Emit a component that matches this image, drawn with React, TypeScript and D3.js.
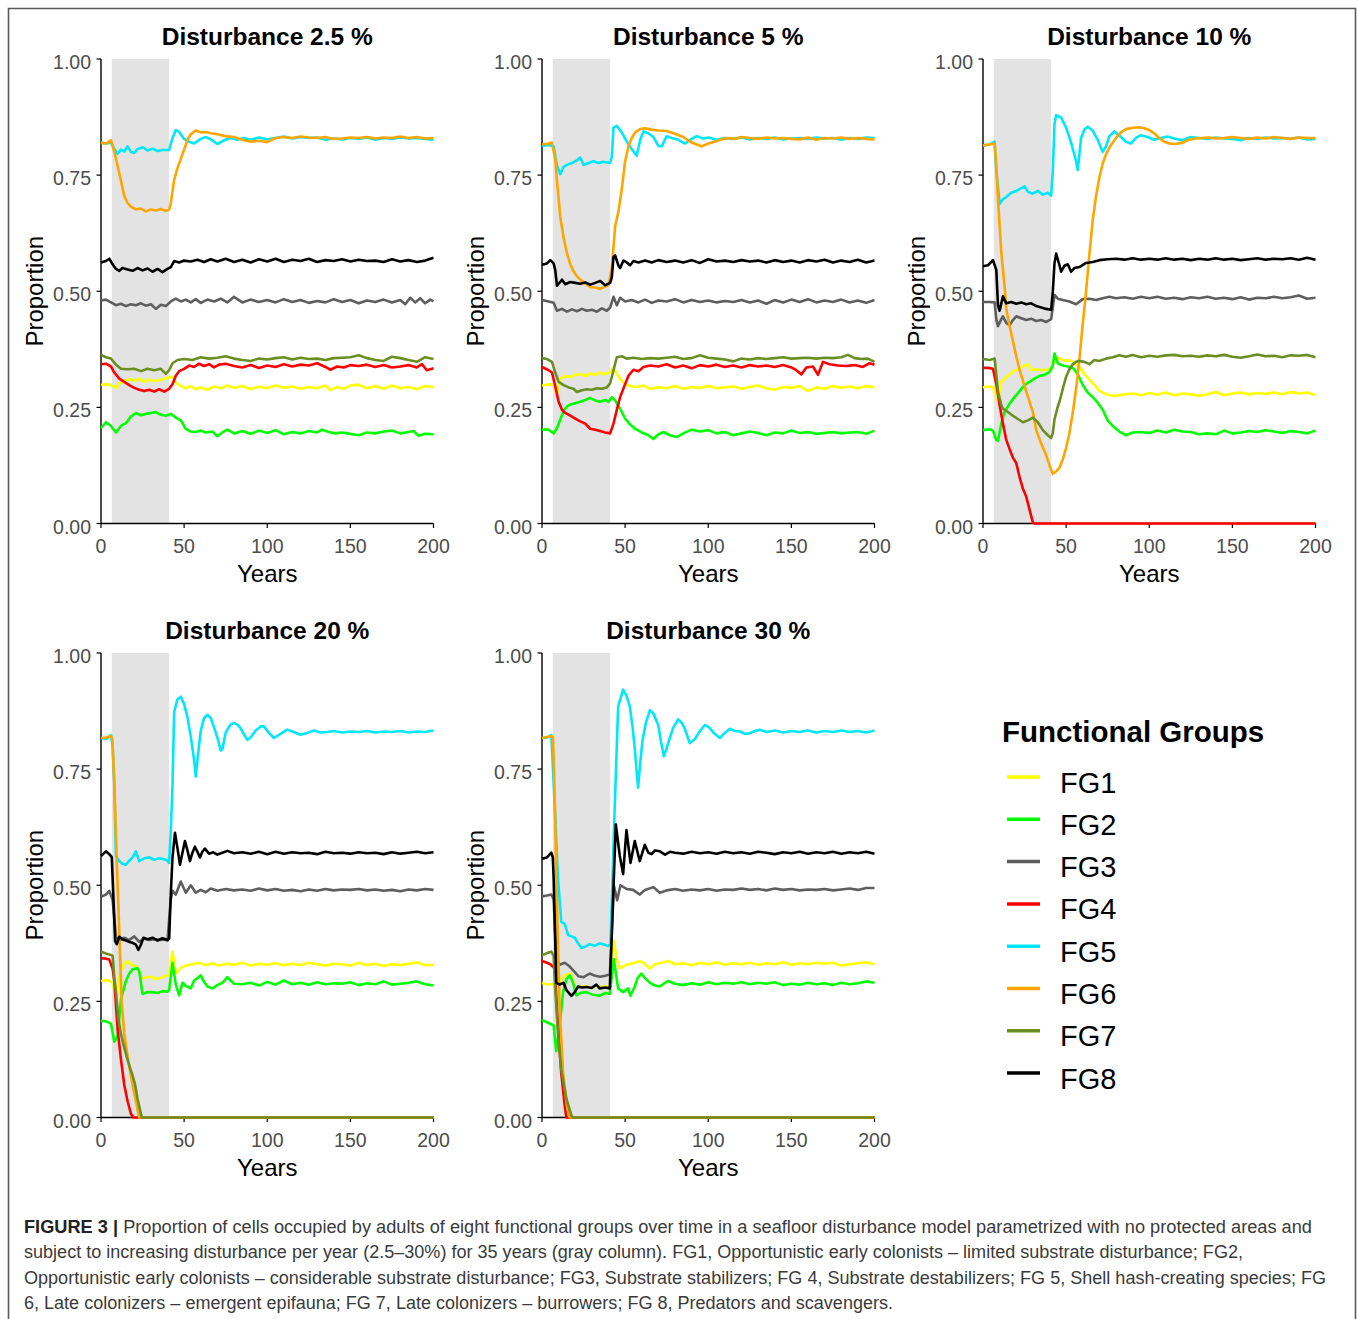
import * as d3 from "d3";
import {useEffect} from "react";

// functional groups and their colours
const groups = ["FG1", "FG2", "FG3", "FG4", "FG5", "FG6", "FG7", "FG8"];
const groupColors = ["#FFFF00", "#00FF00", "#5E5E5E", "#FF0000", "#00E8F8", "#FFA500", "#6B8E23", "#000000"];

const panelTitles = ["Disturbance 2.5 %", "Disturbance 5 %", "Disturbance 10 %", "Disturbance 20 %", "Disturbance 30 %"];
const xTicks = [0, 50, 100, 150, 200];
const yTicks = [0, 0.25, 0.5, 0.75, 1];
const disturbanceYears = [6.5, 41];

// ---- Disturbance 2.5 % : [year, proportion] ----
const d25FG1 = [[0,.298],[4,.300],[7,.296],[9,.292],[11,.302],[14,.306],[17,.311],[20,.307],[23,.312],[26,.305],[29,.310],[32,.306],[35,.309],[38,.311],[41,.315],[43,.316],[45,.303],[48,.296],[51,.291],[54,.296],[57,.289],[60,.293],[64,.288],[68,.295],[72,.291],[76,.297],[80,.292],[85,.296],[90,.289],[95,.295],[100,.291],[105,.297],[110,.292],[115,.295],[120,.290],[125,.294],[130,.291],[135,.297],[138,.287],[142,.294],[146,.290],[150,.297],[155,.299],[160,.291],[165,.296],[170,.290],[175,.297],[180,.291],[185,.294],[190,.289],[195,.296],[200,.293]];
const d25FG2 = [[0,.205],[3,.218],[6,.210],[9,.196],[12,.210],[15,.216],[18,.230],[21,.238],[24,.233],[27,.236],[30,.238],[33,.240],[36,.234],[39,.232],[42,.236],[45,.228],[48,.222],[51,.204],[54,.198],[57,.197],[60,.200],[63,.196],[67,.198],[70,.188],[73,.196],[76,.202],[80,.194],[85,.199],[90,.193],[95,.200],[100,.195],[105,.201],[110,.192],[115,.197],[120,.194],[125,.199],[130,.196],[133,.202],[137,.197],[141,.194],[145,.196],[150,.193],[155,.190],[160,.196],[165,.194],[170,.198],[175,.200],[180,.194],[185,.197],[188,.199],[191,.189],[195,.193],[200,.192]];
const d25FG3 = [[0,.480],[3,.482],[6,.476],[9,.470],[12,.473],[15,.468],[18,.472],[21,.470],[24,.474],[27,.469],[30,.472],[33,.462],[36,.471],[39,.468],[42,.478],[45,.484],[48,.478],[51,.482],[54,.476],[57,.483],[60,.475],[64,.482],[68,.478],[72,.484],[76,.476],[80,.488],[85,.476],[90,.482],[95,.477],[100,.481],[105,.476],[110,.483],[115,.477],[120,.481],[125,.475],[130,.479],[135,.476],[140,.483],[145,.477],[150,.481],[155,.474],[160,.480],[165,.477],[170,.482],[175,.476],[180,.481],[183,.472],[186,.486],[189,.476],[192,.485],[195,.474],[198,.482],[200,.478]];
const d25FG4 = [[0,.343],[3,.344],[6,.338],[8,.325],[11,.312],[14,.305],[17,.298],[20,.292],[23,.288],[26,.285],[29,.288],[32,.284],[35,.289],[38,.284],[41,.290],[43,.300],[45,.318],[47,.328],[50,.333],[53,.340],[56,.337],[59,.344],[62,.339],[65,.343],[68,.336],[71,.342],[75,.344],[80,.339],[85,.336],[90,.341],[95,.335],[100,.340],[105,.337],[110,.343],[115,.338],[120,.342],[125,.340],[130,.345],[135,.337],[138,.331],[142,.338],[146,.336],[150,.341],[155,.339],[160,.342],[165,.337],[170,.341],[175,.336],[180,.338],[185,.341],[190,.336],[193,.343],[196,.330],[200,.334]];
const d25FG5 = [[0,.820],[3,.818],[6,.820],[8,.806],[10,.796],[12,.805],[14,.801],[16,.812],[18,.800],[20,.798],[22,.806],[25,.810],[28,.803],[31,.807],[34,.802],[37,.804],[41,.804],[43,.830],[45,.847],[47,.843],[50,.828],[53,.822],[56,.818],[60,.828],[63,.832],[66,.827],[70,.817],[74,.825],[78,.830],[82,.826],[86,.830],[90,.826],[95,.831],[100,.827],[105,.830],[110,.833],[115,.829],[120,.832],[125,.830],[130,.831],[135,.826],[140,.829],[145,.827],[150,.830],[155,.828],[160,.831],[165,.826],[170,.830],[175,.828],[180,.831],[185,.829],[190,.830],[195,.828],[200,.826]];
const d25FG6 = [[0,.820],[3,.818],[6,.825],[8,.800],[10,.770],[12,.738],[14,.705],[16,.690],[18,.682],[21,.676],[24,.678],[27,.672],[30,.676],[33,.674],[36,.677],[39,.673],[41,.676],[42,.690],[44,.740],[46,.765],[48,.785],[50,.805],[52,.826],[54,.838],[57,.846],[60,.842],[63,.843],[66,.840],[70,.838],[75,.834],[80,.832],[85,.826],[90,.822],[95,.824],[100,.821],[105,.830],[110,.832],[115,.830],[120,.833],[125,.831],[130,.830],[135,.832],[140,.828],[145,.829],[150,.831],[155,.830],[160,.832],[165,.829],[170,.831],[175,.830],[180,.833],[185,.830],[190,.832],[195,.829],[200,.830]];
const d25FG7 = [[0,.363],[3,.358],[6,.355],[9,.342],[12,.333],[16,.332],[20,.333],[24,.328],[28,.333],[32,.330],[36,.333],[39,.322],[41,.330],[43,.345],[46,.352],[50,.354],[55,.352],[60,.358],[65,.355],[70,.357],[75,.360],[80,.355],[85,.352],[90,.350],[95,.355],[100,.353],[105,.356],[110,.358],[115,.353],[120,.357],[125,.354],[130,.355],[135,.352],[140,.356],[145,.357],[150,.358],[155,.362],[160,.356],[165,.352],[170,.350],[175,.359],[180,.356],[185,.352],[190,.348],[195,.358],[200,.354]];
const d25FG8 = [[0,.562],[3,.565],[5,.570],[7,.558],[9,.548],[11,.544],[13,.550],[16,.547],[19,.544],[22,.550],[25,.545],[28,.549],[31,.542],[34,.548],[37,.541],[40,.548],[42,.552],[44,.565],[47,.562],[50,.566],[54,.564],[58,.568],[62,.563],[66,.569],[70,.564],[75,.570],[80,.563],[85,.568],[90,.562],[95,.569],[100,.564],[105,.570],[110,.563],[115,.568],[120,.565],[125,.570],[130,.563],[135,.567],[140,.565],[145,.569],[150,.564],[155,.568],[160,.565],[165,.566],[170,.563],[175,.569],[180,.564],[185,.567],[190,.563],[195,.566],[200,.572]];

// ---- Disturbance 5 % ----
const d5FG1 = [[0,.297],[4,.299],[7,.300],[9,.278],[11,.312],[14,.318],[17,.315],[20,.320],[23,.322],[26,.317],[29,.323],[32,.320],[35,.325],[38,.321],[41,.326],[43,.335],[45,.322],[47,.312],[50,.300],[53,.296],[57,.294],[61,.297],[65,.290],[70,.293],[75,.291],[80,.296],[85,.290],[90,.294],[95,.292],[100,.296],[105,.291],[110,.293],[115,.295],[120,.290],[125,.294],[130,.297],[135,.291],[140,.288],[145,.294],[150,.292],[155,.296],[160,.285],[165,.293],[170,.290],[175,.296],[180,.292],[185,.295],[190,.291],[195,.296],[200,.293]];
const d5FG2 = [[0,.202],[4,.202],[7,.194],[9,.205],[11,.224],[13,.242],[15,.252],[17,.256],[20,.259],[23,.262],[26,.266],[29,.270],[32,.265],[35,.262],[38,.266],[40,.262],[42,.272],[44,.265],[47,.247],[50,.226],[53,.213],[56,.204],[60,.196],[64,.190],[67,.182],[70,.192],[73,.197],[77,.190],[81,.186],[85,.194],[90,.202],[95,.198],[100,.201],[105,.194],[110,.197],[115,.190],[120,.194],[125,.198],[130,.195],[135,.190],[140,.196],[145,.194],[150,.200],[155,.195],[160,.197],[165,.193],[170,.195],[175,.197],[180,.194],[185,.196],[190,.197],[195,.193],[200,.200]];
const d5FG3 = [[0,.481],[4,.478],[7,.475],[9,.458],[12,.462],[15,.456],[18,.461],[21,.457],[24,.462],[27,.458],[30,.460],[33,.456],[36,.463],[39,.458],[41,.465],[43,.488],[45,.470],[47,.486],[50,.478],[54,.481],[58,.476],[62,.482],[66,.475],[70,.480],[75,.478],[80,.483],[85,.476],[90,.481],[95,.477],[100,.480],[105,.476],[110,.479],[115,.477],[120,.481],[125,.476],[130,.480],[135,.473],[140,.481],[145,.476],[150,.482],[155,.477],[160,.483],[165,.476],[170,.480],[175,.477],[180,.482],[185,.476],[190,.480],[195,.475],[200,.481]];
const d5FG4 = [[0,.337],[4,.330],[6,.325],[8,.295],[10,.262],[12,.245],[14,.238],[17,.232],[20,.226],[23,.220],[26,.215],[29,.204],[32,.202],[35,.199],[38,.196],[41,.194],[43,.215],[45,.245],[47,.272],[50,.300],[52,.318],[55,.331],[58,.328],[61,.337],[65,.340],[70,.338],[75,.343],[80,.336],[85,.340],[90,.334],[95,.341],[100,.338],[105,.342],[110,.337],[115,.340],[120,.336],[125,.341],[130,.338],[135,.340],[140,.337],[145,.341],[150,.336],[153,.330],[156,.321],[159,.336],[163,.338],[166,.320],[169,.348],[173,.343],[178,.340],[183,.339],[188,.341],[193,.337],[197,.345],[200,.342]];
const d5FG5 = [[0,.813],[4,.815],[7,.812],[9,.770],[11,.752],[13,.768],[15,.772],[18,.776],[21,.782],[23,.788],[25,.772],[28,.776],[31,.780],[34,.776],[37,.779],[41,.776],[42,.790],[43,.852],[45,.856],[48,.842],[51,.822],[54,.806],[57,.792],[59,.825],[61,.844],[64,.840],[67,.832],[70,.813],[72,.812],[75,.834],[78,.830],[82,.826],[86,.818],[90,.828],[93,.834],[97,.829],[100,.831],[105,.826],[110,.830],[115,.828],[120,.831],[125,.827],[130,.830],[135,.828],[140,.831],[145,.827],[150,.829],[155,.830],[160,.828],[165,.831],[170,.829],[175,.830],[180,.826],[185,.830],[190,.828],[195,.831],[200,.830]];
const d5FG6 = [[0,.816],[4,.818],[6,.820],[8,.785],[9,.738],[11,.660],[13,.615],[15,.582],[17,.558],[19,.543],[21,.532],[23,.525],[26,.517],[29,.509],[32,.508],[35,.505],[38,.510],[40,.514],[42,.550],[44,.640],[46,.672],[48,.720],[50,.780],[52,.812],[54,.830],[56,.842],[59,.849],[62,.851],[66,.848],[70,.846],[75,.845],[80,.839],[85,.832],[89,.822],[93,.816],[96,.812],[100,.818],[104,.822],[108,.827],[112,.830],[116,.828],[120,.832],[125,.830],[130,.828],[135,.831],[140,.829],[145,.830],[150,.828],[155,.827],[160,.831],[165,.826],[170,.830],[175,.829],[180,.831],[185,.828],[190,.830],[195,.828],[200,.827]];
const d5FG7 = [[0,.356],[3,.354],[6,.348],[8,.325],[10,.305],[13,.298],[16,.293],[19,.290],[21,.283],[24,.287],[27,.289],[30,.288],[33,.291],[36,.290],[39,.293],[41,.302],[43,.330],[45,.358],[48,.360],[51,.355],[55,.357],[60,.354],[65,.356],[70,.355],[75,.357],[80,.359],[85,.354],[90,.356],[95,.362],[100,.357],[105,.355],[110,.353],[115,.349],[120,.355],[125,.353],[130,.356],[135,.354],[140,.356],[145,.358],[150,.355],[155,.356],[160,.357],[165,.355],[170,.357],[175,.356],[180,.358],[184,.363],[188,.356],[192,.354],[196,.355],[200,.348]];
const d5FG8 = [[0,.557],[3,.560],[5,.567],[7,.560],[8,.545],[9,.512],[11,.520],[12,.525],[14,.515],[17,.520],[20,.518],[23,.516],[26,.519],[29,.514],[32,.518],[35,.522],[38,.513],[41,.518],[42,.530],[43,.574],[44,.577],[46,.555],[47,.550],[49,.566],[51,.562],[53,.556],[55,.565],[58,.562],[62,.566],[66,.562],[70,.567],[75,.563],[80,.566],[85,.562],[90,.567],[95,.561],[100,.569],[105,.564],[110,.566],[115,.563],[120,.567],[125,.564],[130,.566],[135,.562],[140,.567],[145,.563],[150,.566],[155,.562],[160,.567],[165,.564],[170,.568],[175,.562],[180,.566],[185,.563],[190,.568],[195,.562],[200,.566]];

// ---- Disturbance 10 % ----
const d10FG1 = [[0,.293],[4,.295],[6,.294],[8,.275],[9,.262],[11,.305],[14,.315],[18,.327],[22,.334],[25,.340],[27,.343],[29,.330],[32,.332],[35,.330],[38,.331],[41,.333],[43,.352],[46,.356],[49,.350],[52,.352],[55,.345],[58,.338],[61,.322],[64,.310],[67,.298],[70,.286],[73,.280],[76,.276],[80,.275],[85,.278],[90,.280],[95,.276],[100,.281],[105,.277],[110,.282],[115,.276],[120,.280],[125,.278],[130,.275],[135,.278],[140,.283],[145,.276],[150,.280],[155,.282],[160,.278],[165,.281],[170,.279],[175,.282],[180,.278],[185,.283],[190,.280],[195,.282],[200,.276]];
const d10FG2 = [[0,.201],[4,.203],[6,.200],[8,.180],[9,.178],[11,.215],[13,.240],[16,.258],[19,.272],[22,.285],[25,.298],[28,.305],[31,.312],[34,.318],[37,.320],[40,.326],[42,.340],[43,.366],[45,.345],[48,.340],[51,.338],[54,.335],[57,.322],[60,.298],[63,.282],[66,.272],[69,.260],[72,.245],[75,.222],[78,.210],[82,.198],[86,.190],[90,.196],[95,.197],[100,.195],[105,.200],[110,.196],[115,.202],[120,.198],[125,.197],[130,.192],[135,.194],[140,.192],[145,.200],[150,.194],[155,.196],[160,.199],[165,.197],[170,.201],[175,.198],[180,.195],[185,.199],[190,.197],[195,.194],[200,.200]];
const d10FG3 = [[0,.477],[4,.477],[7,.476],[8,.440],[9,.425],[11,.440],[12,.446],[14,.432],[16,.427],[18,.438],[20,.446],[23,.442],[26,.438],[29,.441],[32,.436],[35,.438],[38,.434],[41,.440],[42,.465],[43,.492],[45,.484],[48,.481],[52,.478],[56,.472],[60,.483],[64,.484],[68,.481],[72,.485],[76,.488],[80,.485],[85,.487],[90,.484],[95,.488],[100,.485],[105,.488],[110,.484],[115,.486],[120,.483],[125,.487],[130,.485],[135,.488],[140,.484],[145,.486],[150,.483],[155,.487],[160,.482],[165,.486],[170,.485],[175,.488],[180,.485],[185,.487],[190,.491],[195,.484],[200,.486]];
const d10FG4 = [[0,.335],[3,.335],[6,.333],[8,.300],[10,.255],[12,.215],[14,.180],[16,.160],[18,.142],[20,.130],[22,.100],[24,.075],[26,.058],[28,.030],[30,.002],[31,0],[200,0]];
const d10FG5 = [[0,.814],[4,.816],[7,.822],[8,.760],[10,.688],[12,.698],[14,.703],[17,.712],[20,.716],[23,.722],[25,.726],[27,.714],[30,.710],[33,.716],[36,.708],[39,.712],[41,.706],[42,.760],[43,.860],[44,.879],[47,.874],[50,.852],[53,.820],[56,.780],[57,.761],[59,.830],[61,.848],[63,.854],[66,.846],[69,.826],[72,.800],[74,.812],[76,.834],[79,.844],[83,.832],[86,.822],[89,.818],[92,.830],[95,.836],[99,.832],[103,.826],[107,.830],[111,.833],[115,.829],[120,.825],[125,.832],[130,.830],[135,.828],[140,.831],[145,.829],[150,.828],[155,.825],[160,.830],[165,.828],[170,.831],[175,.829],[180,.830],[185,.828],[190,.831],[195,.827],[200,.828]];
const d10FG6 = [[0,.814],[4,.816],[7,.818],[8,.770],[9,.700],[11,.584],[13,.510],[14,.462],[16,.425],[18,.393],[20,.360],[22,.331],[25,.296],[28,.262],[30,.240],[32,.201],[35,.172],[38,.147],[40,.125],[42,.107],[44,.112],[46,.120],[48,.138],[50,.163],[52,.195],[54,.239],[56,.290],[58,.354],[60,.430],[62,.500],[64,.580],[66,.653],[68,.705],[70,.745],[72,.775],[74,.795],[77,.815],[80,.830],[83,.842],[86,.849],[90,.852],[94,.853],[97,.851],[100,.847],[103,.840],[106,.830],[109,.822],[112,.818],[116,.817],[120,.820],[124,.826],[128,.829],[132,.830],[136,.831],[140,.829],[145,.830],[150,.832],[155,.830],[160,.828],[165,.831],[170,.829],[175,.832],[180,.830],[185,.828],[190,.831],[195,.830],[200,.830]];
const d10FG7 = [[0,.354],[4,.352],[7,.355],[8,.320],[9,.285],[11,.255],[12,.247],[15,.240],[18,.232],[21,.225],[24,.218],[27,.222],[30,.228],[33,.218],[36,.201],[39,.190],[41,.184],[42,.195],[43,.224],[45,.252],[46,.262],[48,.290],[50,.316],[52,.332],[54,.343],[56,.348],[58,.350],[61,.348],[64,.343],[67,.352],[70,.350],[74,.355],[78,.358],[82,.362],[86,.359],[90,.363],[95,.358],[100,.361],[105,.359],[110,.362],[115,.363],[120,.360],[125,.361],[130,.359],[135,.362],[140,.360],[145,.363],[150,.359],[155,.357],[160,.360],[165,.364],[170,.360],[175,.361],[180,.358],[185,.362],[190,.361],[195,.363],[200,.358]];
const d10FG8 = [[0,.554],[3,.556],[6,.567],[8,.546],[9,.470],[10,.458],[12,.489],[14,.474],[17,.477],[20,.473],[23,.476],[26,.472],[29,.474],[32,.468],[35,.465],[38,.462],[41,.460],[42,.500],[43,.560],[44,.581],[46,.556],[47,.542],[49,.555],[51,.558],[53,.542],[55,.550],[58,.552],[62,.561],[66,.563],[70,.567],[75,.569],[80,.570],[85,.568],[90,.571],[95,.568],[100,.570],[105,.568],[110,.571],[115,.568],[120,.570],[125,.567],[130,.570],[135,.568],[140,.571],[145,.568],[150,.570],[155,.567],[160,.569],[165,.571],[170,.568],[175,.570],[180,.569],[185,.571],[190,.568],[195,.572],[200,.568]];

// ---- Disturbance 20 % ----
const d20FG1 = [[0,.294],[4,.296],[7,.290],[9,.254],[11,.300],[12,.317],[14,.330],[16,.337],[18,.330],[21,.325],[23,.315],[24,.298],[27,.302],[30,.303],[33,.298],[36,.301],[40,.306],[41,.310],[43,.357],[45,.310],[48,.322],[51,.327],[55,.330],[59,.333],[63,.328],[67,.332],[71,.327],[75,.331],[80,.329],[85,.333],[90,.327],[95,.331],[100,.329],[105,.332],[110,.328],[115,.331],[120,.328],[125,.333],[130,.330],[135,.327],[140,.331],[145,.330],[150,.327],[155,.333],[160,.328],[165,.331],[170,.326],[175,.330],[180,.328],[185,.331],[190,.334],[195,.328],[200,.329]];
const d20FG2 = [[0,.208],[3,.207],[6,.202],[8,.163],[10,.175],[12,.254],[15,.294],[17,.310],[19,.319],[22,.321],[23,.315],[25,.266],[28,.270],[31,.270],[34,.268],[37,.272],[40,.271],[41,.275],[43,.333],[45,.286],[47,.263],[49,.290],[51,.283],[54,.278],[56,.295],[58,.300],[60,.306],[62,.292],[64,.282],[67,.278],[70,.285],[73,.290],[76,.302],[80,.288],[85,.287],[90,.290],[95,.284],[100,.292],[105,.286],[110,.295],[115,.287],[120,.290],[125,.286],[130,.291],[135,.287],[140,.289],[145,.288],[150,.291],[155,.285],[160,.289],[165,.287],[170,.293],[175,.286],[180,.288],[185,.290],[190,.293],[195,.287],[200,.284]];
const d20FG3 = [[0,.475],[3,.480],[5,.488],[7,.468],[8,.430],[9,.389],[11,.381],[14,.387],[17,.382],[20,.390],[23,.378],[26,.385],[29,.382],[32,.384],[35,.382],[38,.383],[40,.381],[42,.470],[43,.488],[45,.480],[48,.508],[51,.484],[54,.500],[57,.484],[60,.490],[63,.485],[66,.493],[70,.488],[75,.492],[80,.489],[85,.491],[90,.488],[95,.493],[100,.489],[105,.492],[110,.488],[115,.490],[120,.487],[125,.491],[130,.488],[135,.492],[140,.489],[145,.491],[150,.490],[155,.492],[160,.489],[165,.491],[170,.488],[175,.490],[180,.487],[185,.491],[190,.489],[195,.492],[200,.490]];
const d20FG4 = [[0,.343],[3,.342],[5,.340],[7,.320],[8,.294],[10,.190],[12,.125],[14,.070],[16,.035],[18,.008],[19.5,0],[200,0]];
const d20FG5 = [[0,.817],[3,.815],[6,.823],[7,.800],[8,.714],[9,.563],[11,.552],[13,.546],[15,.544],[17,.553],[19,.560],[21,.573],[23,.552],[26,.558],[29,.560],[32,.555],[35,.558],[38,.556],[40,.553],[41,.548],[42,.620],[43,.714],[44,.873],[46,.900],[48,.906],[50,.890],[52,.862],[54,.820],[56,.770],[57,.734],[58,.770],[60,.833],[62,.860],[64,.867],[66,.860],[68,.840],[70,.818],[72,.790],[73,.792],[75,.829],[78,.846],[80,.849],[82,.846],[84,.838],[86,.825],[88,.813],[90,.818],[93,.833],[96,.842],[98,.842],[101,.828],[104,.817],[108,.826],[112,.835],[116,.830],[120,.824],[124,.828],[128,.833],[132,.829],[136,.830],[140,.832],[145,.829],[150,.831],[155,.830],[160,.832],[165,.829],[170,.831],[175,.830],[180,.832],[185,.829],[190,.831],[195,.830],[200,.833]];
const d20FG6 = [[0,.817],[3,.818],[6,.821],[6.8,.815],[8,.720],[9.4,.560],[11,.400],[12.4,.250],[14,.180],[16.5,.120],[19,.070],[21,.035],[23,0],[200,0]];
const d20FG7 = [[0,.357],[3,.353],[6,.350],[7,.348],[8,.300],[9,.270],[10.4,.214],[12,.180],[13.4,.159],[15.5,.130],[17.5,.107],[19,.090],[20.5,.071],[22,.040],[23.5,.016],[24.5,0],[200,0]];
const d20FG8 = [[0,.563],[3,.573],[5,.567],[6.5,.560],[7.5,.470],[8.5,.380],[9.5,.373],[11,.389],[13,.383],[15,.381],[17,.378],[19,.376],[21,.372],[22.5,.361],[24,.372],[25.5,.387],[28,.384],[31,.387],[34,.381],[37,.386],[40,.382],[41,.385],[42,.484],[43,.560],[44.5,.613],[46,.580],[47.5,.544],[49,.570],[50.5,.595],[52,.575],[53.5,.552],[55,.570],[56.5,.583],[58,.572],[59.5,.560],[61,.572],[62.5,.579],[65,.568],[67.5,.571],[70,.566],[73,.570],[76,.574],[80,.569],[85,.571],[90,.568],[95,.572],[100,.567],[105,.572],[110,.568],[115,.571],[120,.569],[125,.570],[130,.567],[135,.572],[140,.569],[145,.570],[150,.568],[155,.571],[160,.569],[165,.570],[170,.567],[175,.571],[180,.568],[185,.570],[190,.572],[195,.569],[200,.571]];

// ---- Disturbance 30 % ----
const d30FG1 = [[0,.290],[3,.286],[6,.288],[8.6,.278],[10.6,.294],[13.7,.306],[16.7,.310],[18,.303],[19.7,.280],[23,.281],[26,.283],[29,.279],[32,.282],[35,.280],[38,.283],[40.8,.278],[43.2,.381],[45,.340],[46.8,.321],[50.8,.329],[55,.332],[58.8,.337],[62,.330],[64.9,.321],[68,.330],[72,.333],[76,.337],[80,.330],[85,.332],[90,.328],[95,.333],[100,.330],[105,.334],[110,.329],[115,.332],[120,.330],[125,.333],[130,.329],[135,.332],[140,.330],[145,.334],[150,.329],[155,.332],[160,.330],[165,.333],[170,.331],[175,.333],[180,.327],[185,.330],[190,.332],[195,.334],[200,.330]];
const d30FG2 = [[0,.210],[3,.205],[7,.198],[8.6,.143],[10.6,.198],[12.7,.270],[14.7,.298],[16.7,.306],[18.7,.290],[20.7,.263],[23,.268],[26.7,.270],[30,.265],[34.7,.262],[38,.268],[40.8,.266],[43.2,.341],[45.8,.278],[48.8,.270],[51.8,.278],[53.2,.262],[55.8,.282],[57.5,.300],[59.8,.310],[62,.300],[64.9,.290],[68,.284],[70.9,.282],[74,.290],[76,.294],[80,.288],[85,.285],[90,.289],[95,.286],[100,.291],[105,.287],[110,.290],[115,.288],[120,.291],[125,.287],[130,.290],[135,.288],[140,.291],[145,.285],[150,.288],[155,.286],[160,.290],[165,.287],[170,.289],[175,.285],[180,.290],[185,.287],[190,.289],[195,.293],[200,.290]];
const d30FG3 = [[0,.476],[3,.478],[5.6,.480],[7,.470],[8.6,.341],[10.6,.329],[13.7,.333],[16.7,.325],[19.7,.313],[22,.304],[25,.302],[28.7,.310],[32,.305],[35,.303],[38,.305],[40.8,.308],[42,.400],[43.2,.500],[45.2,.468],[47.2,.500],[50.8,.492],[54.8,.490],[58.8,.480],[62,.490],[66.9,.496],[70.9,.484],[75,.489],[80,.492],[85,.488],[90,.491],[95,.489],[100,.492],[105,.488],[110,.491],[115,.490],[120,.493],[125,.490],[130,.492],[135,.489],[140,.493],[145,.490],[150,.492],[155,.489],[160,.491],[165,.490],[170,.492],[175,.489],[180,.491],[185,.493],[190,.490],[195,.494],[200,.494]];
const d30FG4 = [[0,.337],[3,.333],[5,.330],[7.6,.321],[9.6,.198],[11.6,.095],[13.7,.024],[14.7,0],[200,0]];
const d30FG5 = [[0,.817],[3,.818],[5.6,.823],[7.6,.675],[9.6,.516],[11.6,.421],[13.7,.417],[15.7,.393],[17.7,.390],[19.7,.387],[21.7,.375],[23.7,.365],[26,.368],[28.7,.373],[31.7,.370],[34.7,.375],[37.7,.372],[39.8,.369],[41.2,.374],[43.2,.611],[45.8,.885],[48.8,.921],[50.8,.908],[52.8,.885],[54.5,.840],[55.8,.794],[57.8,.710],[59,.760],[60.4,.810],[62.5,.850],[64.9,.877],[67,.870],[69.9,.845],[71.5,.810],[73.3,.778],[75,.795],[76.9,.817],[79,.840],[81.9,.857],[84,.850],[85.9,.837],[88.9,.806],[92,.815],[95,.832],[98,.845],[100.5,.840],[103,.829],[107,.817],[110,.828],[113,.837],[116,.832],[119,.831],[122,.826],[125,.827],[128,.832],[131,.835],[135,.830],[140,.833],[145,.829],[150,.832],[155,.830],[160,.833],[165,.829],[170,.832],[175,.830],[180,.833],[185,.830],[190,.832],[195,.829],[200,.833]];
const d30FG6 = [[0,.817],[3,.819],[4.6,.821],[6.6,.819],[7.6,.700],[8.6,.516],[10.6,.238],[12.7,.095],[15,.024],[16.7,0],[200,0]];
const d30FG7 = [[0,.349],[3,.354],[5.6,.357],[7,.348],[7.6,.300],[9.6,.183],[11.6,.103],[14.7,.040],[17.7,.004],[18.7,0],[200,0]];
const d30FG8 = [[0,.557],[3,.560],[5.6,.570],[6.5,.560],[7,.516],[8.6,.290],[10.6,.286],[13,.290],[14.7,.274],[17.7,.262],[19.7,.270],[21.7,.282],[24,.280],[27,.281],[30,.279],[32.7,.286],[34.7,.278],[38,.280],[40.8,.278],[42.4,.437],[44.4,.631],[46.8,.563],[48.8,.524],[50.8,.619],[53.2,.548],[55.8,.595],[58.8,.552],[61.8,.587],[64,.570],[65.9,.567],[68,.575],[70.9,.573],[74,.566],[77,.572],[80,.570],[85,.568],[90,.572],[95,.569],[100,.571],[105,.568],[110,.572],[115,.569],[120,.571],[125,.568],[130,.572],[135,.570],[140,.567],[145,.571],[150,.569],[155,.572],[160,.568],[165,.571],[170,.569],[175,.572],[180,.568],[185,.571],[190,.569],[195,.572],[200,.568]];

const panelSeries = [
  [d25FG1, d25FG2, d25FG3, d25FG4, d25FG5, d25FG6, d25FG7, d25FG8],
  [d5FG1, d5FG2, d5FG3, d5FG4, d5FG5, d5FG6, d5FG7, d5FG8],
  [d10FG1, d10FG2, d10FG3, d10FG4, d10FG5, d10FG6, d10FG7, d10FG8],
  [d20FG1, d20FG2, d20FG3, d20FG4, d20FG5, d20FG6, d20FG7, d20FG8],
  [d30FG1, d30FG2, d30FG3, d30FG4, d30FG5, d30FG6, d30FG7, d30FG8],
];

const captionLines = [
  "Proportion of cells occupied by adults of eight functional groups over time in a seafloor disturbance model parametrized with no protected areas and",
  "subject to increasing disturbance per year (2.5–30%) for 35 years (gray column). FG1, Opportunistic early colonists – limited substrate disturbance; FG2,",
  "Opportunistic early colonists – considerable substrate disturbance; FG3, Substrate stabilizers; FG 4, Substrate destabilizers; FG 5, Shell hash-creating species; FG",
  "6, Late colonizers – emergent epifauna; FG 7, Late colonizers – burrowers; FG 8, Predators and scavengers.",
];

const font = "'Liberation Sans', Arial, Helvetica, sans-serif";

// plot-area origins for the five panels
const panelPos = [
  {x: 101, y: 59}, {x: 542, y: 59}, {x: 983, y: 59},
  {x: 101, y: 653}, {x: 542, y: 653},
];
const plotW = 332.5;
const plotH = 464.5;

function Panel({index}) {
  const pos = panelPos[index];
  const x = d3.scaleLinear().domain([0, 200]).range([0, plotW]);
  const y = d3.scaleLinear().domain([0, 1]).range([plotH, 0]);
  const line = d3.line().x(d => x(d[0])).y(d => y(d[1]));

  return (
    <g transform={`translate(${pos.x},${pos.y})`}>
      <rect x={x(disturbanceYears[0])} y={y(1)} width={x(disturbanceYears[1]) - x(disturbanceYears[0])}
        height={y(0) - y(1)} fill="#E3E3E3" />
      {/* axes (drawn under the lines, lines at zero sit on top) */}
      <line x1={0} x2={0} y1={y(1)} y2={y(0)} stroke="#000" strokeWidth={1.4} />
      <line x1={0} x2={x(200)} y1={y(0)} y2={y(0)} stroke="#000" strokeWidth={1.4} />
      {yTicks.map(t => (
        <g key={t}>
          <line x1={-4.5} x2={0} y1={y(t)} y2={y(t)} stroke="#000" strokeWidth={1.2} />
          <text x={-10} y={y(t) + 10} textAnchor="end" fontSize={19.5} fill="#4D4D4D">{t.toFixed(2)}</text>
        </g>
      ))}
      {xTicks.map(t => (
        <g key={t}>
          <line x1={x(t)} x2={x(t)} y1={y(0)} y2={y(0) + 4.5} stroke="#000" strokeWidth={1.2} />
          <text x={x(t)} y={y(0) + 29} textAnchor="middle" fontSize={19.5} fill="#4D4D4D">{t}</text>
        </g>
      ))}
      {panelSeries[index].map((s, i) => (
        <path key={i} d={line(s)} fill="none" stroke={groupColors[i]} strokeWidth={2.6}
          strokeLinejoin="round" />
      ))}
      <text x={plotW / 2} y={-14} textAnchor="middle" fontSize={24.5} fontWeight="bold">{panelTitles[index]}</text>
      <text x={plotW / 2} y={plotH + 58} textAnchor="middle" fontSize={24}>Years</text>
      <text transform={`translate(${-58},${plotH / 2}) rotate(-90)`} textAnchor="middle" fontSize={24}>Proportion</text>
    </g>
  );
}

function App() {
  useEffect(() => {
    document.body.style.margin = "0";
  }, []);

  const captionWidths = [1288, 1219, 1302, 869];

  return (
    <svg width={1358} height={1319} style={{display: "block", fontFamily: font}}>
      <rect width={1358} height={1319} fill="#fff" />
      <path d="M8.5,1319 V8.5 H1355.5 V1319" fill="none" stroke="#5a5a5a" strokeWidth={1.6} />
      {panelTitles.map((t, i) => <Panel key={t} index={i} />)}

      {/* legend */}
      <g transform="translate(1002,742)">
        <text x={0} y={0} fontSize={29.5} fontWeight="bold">Functional Groups</text>
        {groups.map((g, i) => (
          <g key={g} transform={`translate(0,${35 + i * 42.3})`}>
            <line x1={5} x2={38} y1={0} y2={0} stroke={groupColors[i]} strokeWidth={3.5} />
            <text x={58} y={15.5} fontSize={29}>{g}</text>
          </g>
        ))}
      </g>

      {/* caption */}
      {captionLines.map((l, i) => (
        <text key={i} x={24} y={1233 + i * 25.4} fontSize={17.5} fill="#3a3a3a"
          textLength={captionWidths[i]} lengthAdjust="spacingAndGlyphs">
          {i === 0 && <tspan fontWeight="bold" fill="#222">FIGURE 3 | </tspan>}
          {l}
        </text>
      ))}
    </svg>
  );
}

export default App;
